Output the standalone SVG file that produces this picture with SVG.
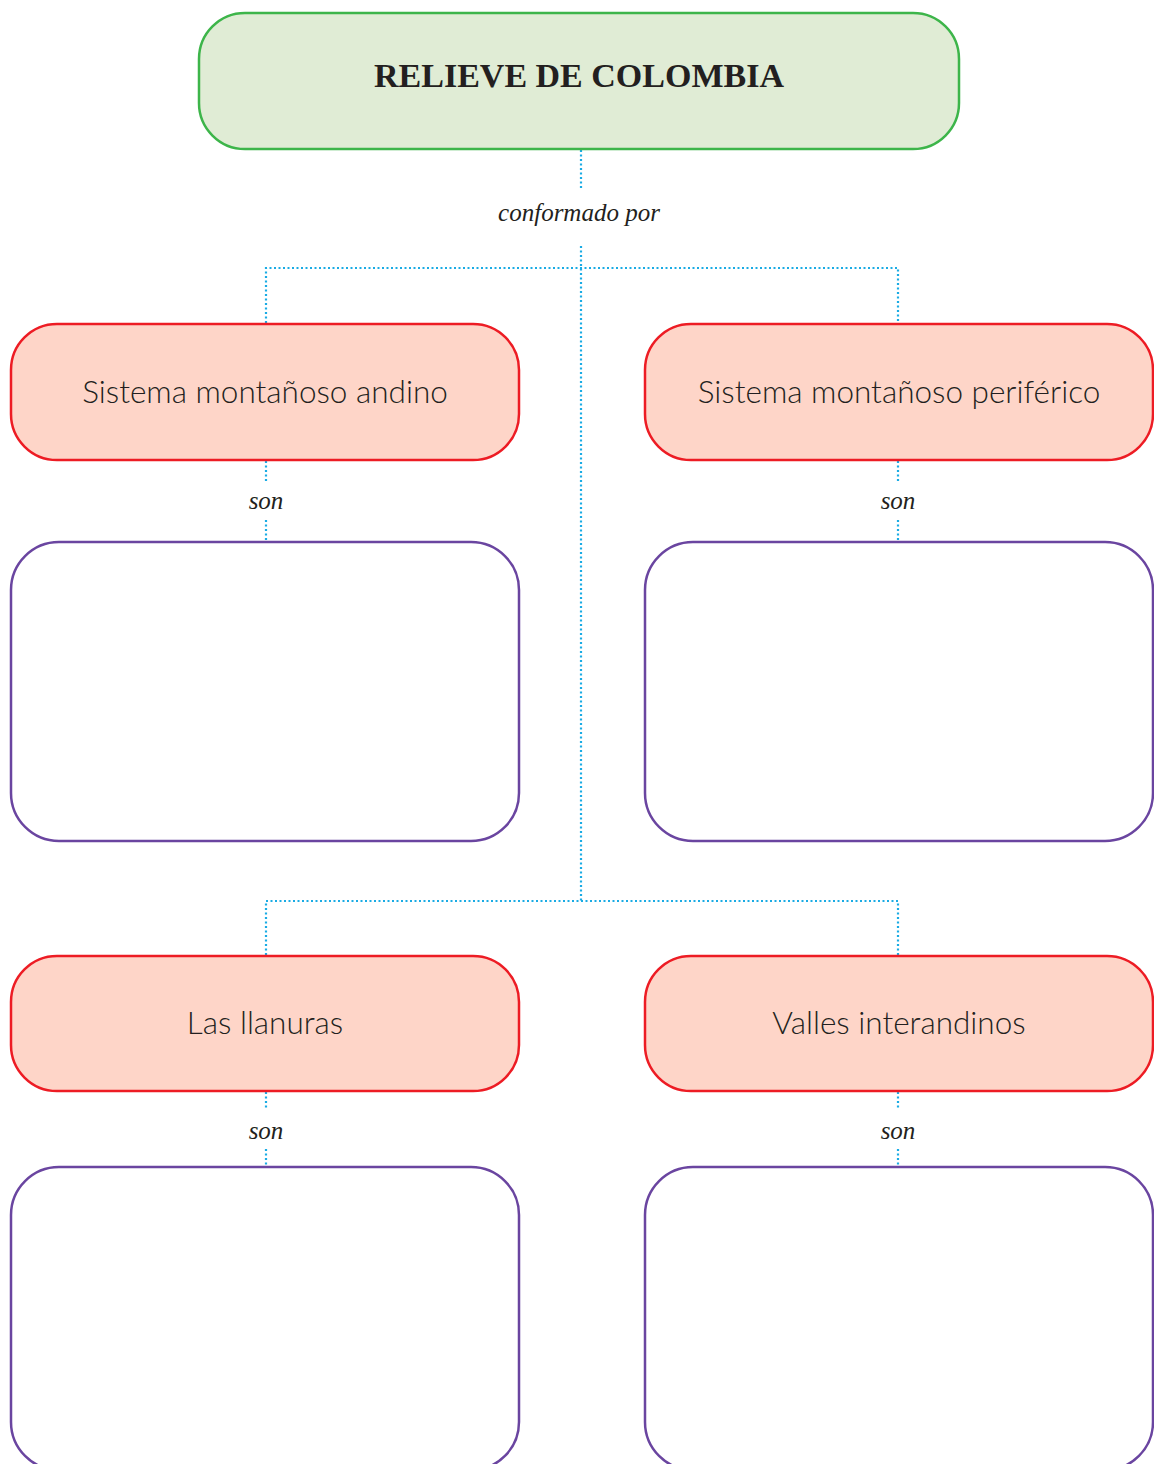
<svg xmlns="http://www.w3.org/2000/svg" width="1154" height="1464" viewBox="0 0 1154 1464">
<style>
.title{fill:#e0ecd5;stroke:#3db54a;stroke-width:2.5}
.cat{fill:#fed5c8;stroke:#ed1c24;stroke-width:2.5}
.empty{fill:#ffffff;stroke:#6a45a0;stroke-width:2.5}
.conn{fill:none;stroke:#1aabe4;stroke-width:2.2;stroke-dasharray:2 2.5}
.tt{font-family:"Liberation Serif",serif;font-weight:bold;font-size:34px;fill:#231f20;text-anchor:middle}
.ct{font-family:Lato,"Open Sans",sans-serif;font-weight:300;font-size:31.5px;fill:#231f20;text-anchor:middle}
.lb{font-family:"Liberation Serif",serif;font-style:italic;font-size:25px;fill:#231f20;text-anchor:middle}
</style>
<rect width="1154" height="1464" fill="#ffffff"/>
<g id="connectors">
<path class="conn" d="M581 150V188"/>
<path class="conn" d="M581 246V901"/>
<path class="conn" d="M266 323V268H898V323"/>
<path class="conn" d="M266 955V901H898V955"/>
<path class="conn" d="M266 461V481M266 520V541"/>
<path class="conn" d="M898 461V481M898 520V541"/>
<path class="conn" d="M266 1092V1110M266 1149V1167"/>
<path class="conn" d="M898 1092V1110M898 1149V1167"/>
<text class="lb" x="579" y="221">conformado por</text>
<text class="lb" x="266" y="509">son</text>
<text class="lb" x="898" y="509">son</text>
<text class="lb" x="266" y="1139">son</text>
<text class="lb" x="898" y="1139">son</text>
</g>
<g id="n-title"><rect class="title" x="199" y="13" width="760" height="136" rx="46"/><text class="tt" x="579" y="87">RELIEVE DE COLOMBIA</text></g>
<g id="n-andino"><rect class="cat" x="11" y="324" width="508" height="136" rx="46"/><text class="ct" x="265" y="403">Sistema montañoso andino</text></g>
<g id="n-periferico"><rect class="cat" x="645" y="324" width="508" height="136" rx="46"/><text class="ct" x="899" y="403">Sistema montañoso periférico</text></g>
<g id="n-andino-son"><rect class="empty" x="11" y="542" width="508" height="299" rx="48"/></g>
<g id="n-periferico-son"><rect class="empty" x="645" y="542" width="508" height="299" rx="48"/></g>
<g id="n-llanuras"><rect class="cat" x="11" y="956" width="508" height="135" rx="46"/><text class="ct" x="265" y="1034">Las llanuras</text></g>
<g id="n-valles"><rect class="cat" x="645" y="956" width="508" height="135" rx="46"/><text class="ct" x="899" y="1034">Valles interandinos</text></g>
<g id="n-llanuras-son"><rect class="empty" x="11" y="1167" width="508" height="303" rx="48"/></g>
<g id="n-valles-son"><rect class="empty" x="645" y="1167" width="508" height="303" rx="48"/></g>
</svg>
